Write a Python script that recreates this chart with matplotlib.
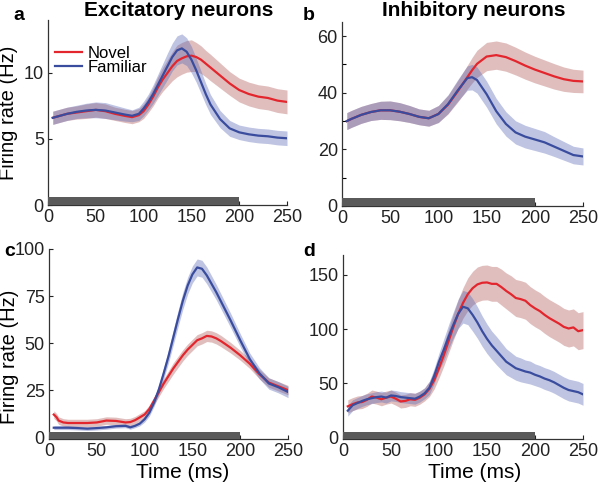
import matplotlib
matplotlib.use("Agg")
import matplotlib.pyplot as plt
import numpy as np
from matplotlib.patches import Rectangle
import matplotlib.transforms as mtransforms

plt.rcParams['font.family'] = ['Liberation Sans', 'DejaVu Sans']

# ---------------- data ----------------
# Panel a: excitatory neurons (top)
t_a = [5, 10, 20, 30, 40, 50, 60, 70, 80, 88, 95, 100, 105, 110, 115, 120, 125, 130, 135,
       140, 145, 150, 155, 160, 165, 170, 180, 190, 200, 210, 220, 230, 240, 250]
novel_a = [6.6, 6.7, 6.9, 7.0, 7.1, 7.2, 7.1, 6.9, 6.75, 6.65, 6.8, 7.1, 7.6, 8.2, 8.9, 9.5, 10.0,
           10.5, 10.9, 11.1, 11.25, 11.3, 11.2, 11.0, 10.7, 10.4, 9.8, 9.2, 8.7, 8.4, 8.2, 8.1, 7.9, 7.8]
novel_a_sem = [0.5, 0.5, 0.5, 0.5, 0.55, 0.55, 0.55, 0.5, 0.5, 0.5, 0.5, 0.55, 0.6, 0.7, 0.8, 0.9,
               1.0, 1.1, 1.2, 1.2, 1.2, 1.2, 1.1, 1.05, 1.0, 1.0, 0.95, 0.9, 0.9, 0.9, 0.9, 0.9, 0.9, 0.9]
fam_a = [6.6, 6.7, 6.9, 7.05, 7.15, 7.2, 7.15, 7.0, 6.85, 6.75, 6.9, 7.3, 7.8, 8.4, 9.1, 9.8, 10.5,
         11.2, 11.7, 11.85, 11.6, 11.0, 10.2, 9.3, 8.4, 7.6, 6.5, 5.8, 5.5, 5.35, 5.25, 5.2, 5.1, 5.05]
fam_a_sem = [0.5, 0.5, 0.5, 0.5, 0.55, 0.6, 0.6, 0.55, 0.5, 0.45, 0.5, 0.55, 0.6, 0.7, 0.8, 0.9,
             1.0, 1.05, 1.1, 1.1, 1.05, 1.0, 0.9, 0.85, 0.8, 0.75, 0.65, 0.6, 0.55, 0.55, 0.55, 0.55, 0.55, 0.55]

# Panel b: inhibitory neurons (top)
t_b = [5, 10, 20, 30, 40, 50, 60, 70, 80, 90, 100, 110, 120, 130, 135, 140, 150, 160, 170,
       180, 190, 200, 210, 220, 230, 240, 250]
novel_b = [30, 30.8, 32.2, 33.2, 33.8, 33.8, 33.3, 32.5, 31.5, 31.0, 32.5, 35.8, 40.5, 45.5, 48,
           50.2, 52.8, 53.3, 52.6, 51.2, 49.6, 48.2, 47, 45.8, 44.8, 44.2, 44.0]
novel_b_sem = [3, 3, 3, 3, 3.2, 3.3, 3.2, 3, 2.8, 2.8, 3, 3.3, 3.8, 4.2, 4.5, 4.8, 5, 5, 5, 4.9,
               4.8, 4.7, 4.6, 4.5, 4.3, 4.1, 4]
fam_b = [30, 30.8, 32.2, 33.2, 33.8, 33.8, 33.3, 32.5, 31.5, 31.0, 32.5, 36, 40.8, 45.2, 45.5,
         44.5, 39.5, 33.5, 29, 26, 24.5, 23.5, 22.5, 21, 19.5, 18, 17.5]
fam_b_sem = [3, 3, 3, 3, 3.2, 3.3, 3.2, 3, 2.8, 2.8, 3, 3.3, 3.8, 4.3, 4.5, 4.6, 4.6, 4.5, 4.3,
             4.1, 4, 3.9, 3.8, 3.5, 3.3, 3.1, 3]

# Panel c: excitatory neurons (bottom)
t_c = [5, 8, 10, 15, 20, 30, 40, 50, 60, 70, 80, 85, 90, 95, 100, 105, 110, 115, 120, 125, 130,
       135, 140, 145, 150, 155, 160, 165, 170, 175, 180, 190, 200, 210, 220, 230, 240, 250]
novel_c = [12, 10.5, 8.8, 7.8, 7.5, 7.5, 7.5, 7.8, 8.8, 8.6, 7.8, 8, 9, 10.5, 12, 15, 19.5, 24,
           28.5, 32.5, 36.5, 40, 43.5, 46.5, 49, 51.5, 52.5, 53.8, 53.5, 52.5, 51, 47.5, 43.5,
           39, 33.5, 29, 27, 25]
novel_c_sem = [2, 2, 2, 2, 2, 2, 2, 2, 2, 2, 2, 2, 2, 2, 2, 2, 2.2, 2.4, 2.6, 2.8, 3, 3, 3, 3, 3,
               3, 3, 3, 3, 3, 3, 2.8, 2.6, 2.5, 2.5, 2.5, 2.5, 2.5]
fam_c = [5, 5, 5, 5, 5, 4.8, 4.5, 4.8, 5.2, 5.8, 6, 5.2, 6, 7.2, 9.5, 13, 18.5, 25.5, 34, 43, 53,
         63, 72.5, 80.5, 86.5, 90.2, 89.5, 86, 81.5, 77, 72, 62, 51.5, 41.5, 34, 28.5, 26.5, 24]
fam_c_sem = [1, 1, 1, 1, 1, 1, 1, 1, 1, 1, 1, 1, 1, 1.2, 1.5, 1.8, 2, 2.5, 3, 3.5, 4, 4.3, 4.5,
             4.5, 4.5, 4.5, 4.5, 4.5, 4.3, 4.1, 4, 3.8, 3.5, 3.2, 3, 3, 3, 3]

# Panel d: inhibitory neurons (bottom)
t_d = [5, 10, 15, 20, 25, 30, 35, 40, 45, 50, 55, 60, 65, 70, 75, 80, 85, 90, 95, 100, 105, 110,
       115, 120, 125, 130, 135, 140, 145, 150, 155, 160, 165, 170, 175, 180, 185, 190, 195, 200,
       205, 210, 215, 220, 225, 230, 235, 240, 245, 250]
novel_d = [29, 31, 32.5, 33, 35, 38, 37, 35.5, 37, 38, 36, 33.5, 34, 35.5, 35, 37, 40, 45, 53, 64,
           76, 89, 102, 114, 124, 132, 137.5, 141, 142.5, 142.8, 141.5, 141.5, 138.5, 135, 132,
           128.5, 127.5, 126, 122, 119, 116.5, 113, 110, 107.5, 105, 102, 100.5, 101.5, 98, 99]
novel_d_sem = [6, 6, 6, 6, 6, 6, 6, 6, 6, 6, 6, 6, 6, 6, 6, 6, 6, 7, 8, 9, 10, 11, 12, 13, 14,
               15, 15.5, 16, 16, 16, 16, 16, 16.5, 16.5, 17, 17, 17, 17, 17, 17, 17, 17, 17, 17,
               17, 17, 17, 17, 17, 17]
fam_d = [25, 30, 32, 34, 35.5, 36.5, 37.5, 38, 37, 39, 38.5, 37.5, 37, 36.5, 36, 38, 41, 46, 57,
         70, 81, 93, 104, 114, 120.5, 119, 113, 106, 98, 91, 85, 80, 75, 70, 67, 64, 62.5, 61, 60,
         58, 56.5, 54.5, 53, 51, 48.5, 46, 44, 43, 42, 40]
fam_d_sem = [5, 5, 5, 5, 5, 5, 5, 5, 5, 5, 5, 5, 5, 5, 5, 5, 5, 6, 7, 8, 10, 11, 12, 13.5, 15,
             15, 15, 14.5, 14, 13.5, 13, 13, 12.5, 12, 11.5, 11, 11, 10.5, 10.5, 10, 10, 10, 10,
             10, 10, 10, 10, 10, 10, 10]

stim_on, stim_off = 0, 200
titles = ["Excitatory neurons", "Inhibitory neurons"]
letters = ["a", "b", "c", "d"]
labels = ["Novel", "Familiar"]

# ---------------- style ----------------
RED = '#E3262D'
BLUE = '#3A4C9E'
RED_FILL = '#B05555'
BLUE_FILL = '#5565B5'
BAR = '#5A5A5A'

W, H = 600, 483
fig = plt.figure(figsize=(6.0, 4.83), dpi=100)

def ax_rect(x0, x1, y_bot, y_top):
    return [x0 / W, 1 - y_bot / H, (x1 - x0) / W, (y_bot - y_top) / H]

panels = [
    dict(rect=ax_rect(48, 287, 205, 20), t=t_a, nv=novel_a, nvs=novel_a_sem, fm=fam_a, fms=fam_a_sem,
         ylim=(0, 14), yticks=[0, 5, 10], minor=None, bar_h=0.045),
    dict(rect=ax_rect(342, 583, 206, 22), t=t_b, nv=novel_b, nvs=novel_b_sem, fm=fam_b, fms=fam_b_sem,
         ylim=(0, 65), yticks=[0, 20, 40, 60], minor=[10, 30, 50], bar_h=0.045),
    dict(rect=ax_rect(49, 288, 439, 249), t=t_c, nv=novel_c, nvs=novel_c_sem, fm=fam_c, fms=fam_c_sem,
         ylim=(-1, 100), yticks=[0, 25, 50, 75, 100], minor=None, bar_h=0.038),
    dict(rect=ax_rect(343, 583, 439, 255), t=t_d, nv=novel_d, nvs=novel_d_sem, fm=fam_d, fms=fam_d_sem,
         ylim=(-1, 168), yticks=[0, 50, 100, 150], minor=None, bar_h=0.04),
]

axes = []
for i, p in enumerate(panels):
    ax = fig.add_axes(p['rect'])
    axes.append(ax)
    t = np.array(p['t'])
    nv, nvs = np.array(p['nv']), np.array(p['nvs'])
    fm, fms = np.array(p['fm']), np.array(p['fms'])
    ax.fill_between(t, nv - nvs, nv + nvs, color=RED_FILL, alpha=0.38, lw=0)
    ax.fill_between(t, fm - fms, fm + fms, color=BLUE_FILL, alpha=0.38, lw=0)
    ax.plot(t, nv, color=RED, lw=1.6, label=labels[0])
    ax.plot(t, fm, color=BLUE, lw=1.6, label=labels[1])
    ax.set_xlim(0, 250)
    ax.set_ylim(*p['ylim'])
    ax.set_xticks([0, 50, 100, 150, 200, 250])
    ax.set_yticks(p['yticks'])
    if p['minor']:
        ax.set_yticks(p['minor'], minor=True)
        ax.tick_params(axis='y', which='minor', direction='in', length=3, width=0.8)
    ax.tick_params(direction='in', length=3, width=0.8, labelsize=13, pad=3, colors='#222222')
    for s in ['top', 'right']:
        ax.spines[s].set_visible(False)
    for s in ['left', 'bottom']:
        ax.spines[s].set_linewidth(0.9)
        ax.spines[s].set_color('#333333')
    trans = mtransforms.blended_transform_factory(ax.transData, ax.transAxes)
    ax.add_patch(Rectangle((stim_on, 0), stim_off - stim_on, p['bar_h'], transform=trans,
                           color=BAR, lw=0, clip_on=False, zorder=5))

# legend in panel a
axes[0].legend(loc='upper left', bbox_to_anchor=(0.03, 0.86), frameon=False, fontsize=12,
               handlelength=1.6, handletextpad=0.35, labelspacing=-0.05, borderpad=0,
               borderaxespad=0)

# axis labels
for ax in (axes[0], axes[2]):
    ax.set_ylabel("Firing rate (Hz)", fontsize=14.5)
axes[0].yaxis.set_label_coords(-0.125, 0.5)
axes[2].yaxis.set_label_coords(-0.125, 0.43)
axes[2].set_xlabel("Time (ms)", fontsize=15)
axes[2].xaxis.set_label_coords(0.56, -0.125)
axes[3].set_xlabel("Time (ms)", fontsize=15)
axes[3].xaxis.set_label_coords(0.55, -0.13)

# titles
fig.text(179 / W, 1 - 11 / H, titles[0], ha='center', va='center', fontsize=15, fontweight='bold')
fig.text(474 / W, 1 - 11 / H, titles[1], ha='center', va='center', fontsize=15, fontweight='bold')

# panel letters
for (x, y), l in zip([(19, 15), (309, 15), (10, 252), (309, 252)], letters):
    fig.text(x / W, 1 - y / H, l, ha='center', va='center', fontsize=14, fontweight='bold')

fig.savefig("out.png", dpi=100)
